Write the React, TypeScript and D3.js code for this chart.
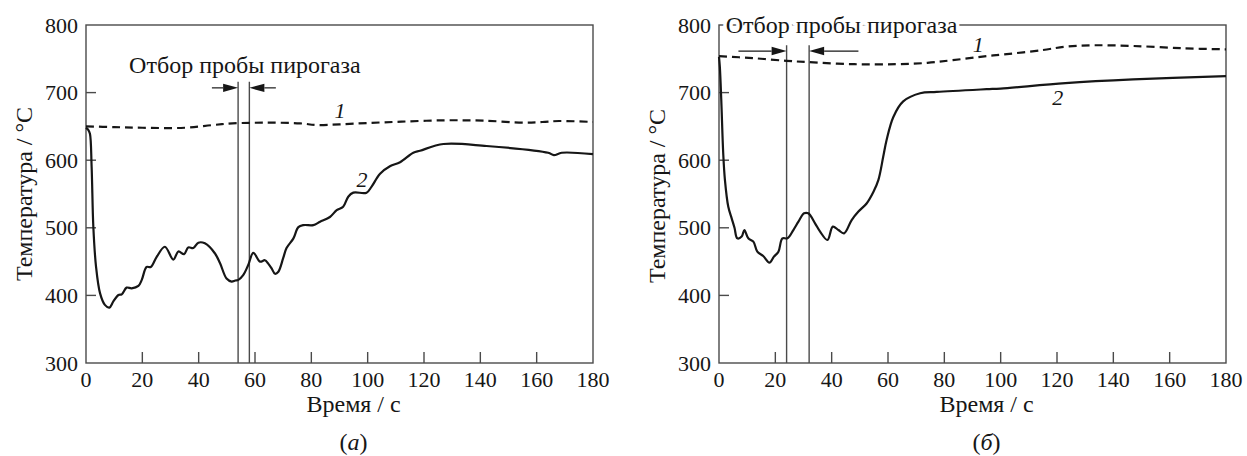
import React from 'react';
import * as d3 from 'd3';

// ---------- data ----------
const X_TICKS = [0, 20, 40, 60, 80, 100, 120, 140, 160, 180];
const Y_TICKS = [300, 400, 500, 600, 700, 800];
const X_LABEL = 'Время / с';
const Y_LABEL = 'Температура / °C';
const SAMPLING_LABEL = 'Отбор пробы пирогаза';

// panel (а)
const panelA_curve1: [number, number][] = [
  [0, 650], [10, 649], [20, 648], [35, 648], [45, 652], [52, 654.5], [64, 655.5], [76, 654.5],
  [82, 652], [90, 653], [100, 655], [112, 657], [127, 659], [141, 658.5], [156, 655.5],
  [162, 656.5], [168, 658], [180, 656.5],
];
const panelA_curve2: [number, number][] = [
  [0, 648], [0.8, 645], [1.4, 639], [2.0, 590], [2.6, 502], [3.55, 443], [5, 403], [6.7, 386],
  [8.3, 382], [9.7, 391], [11.5, 400.6], [12.7, 401.6], [14.4, 411.5], [16.2, 410.5], [18.6, 414],
  [19.8, 423], [21.5, 442], [23, 442], [25.1, 457], [28, 472], [31, 453], [32.8, 465], [34.8, 461],
  [36.3, 471], [38.1, 470], [39.9, 478], [42.2, 477], [45.8, 462], [47.6, 447.5], [49.9, 425],
  [51.7, 420.5], [53, 422], [54.1, 423], [55.8, 430], [57.6, 445], [59.4, 463], [61.8, 450],
  [63.5, 452], [64.7, 447], [65.9, 440], [67.1, 432], [68.3, 435], [70, 455], [71.2, 470],
  [73.6, 484], [75.4, 501], [77.2, 504], [80.7, 504], [83.1, 509], [86.6, 516], [89, 526],
  [91.3, 531], [93.1, 546], [94.9, 552], [99.6, 552], [101.4, 561], [104.4, 580], [107.9, 591],
  [111.5, 597], [116.2, 611], [118.6, 614], [126.9, 624], [142.2, 621], [164.1, 611],
  [166.1, 607.5], [168.9, 611], [180, 609],
];
const panelA_sampling = [54, 58];

// panel (б)
const panelB_curve1: [number, number][] = [
  [0, 754], [12, 751], [24, 747], [32, 745], [48, 742], [63, 742], [74, 744], [83, 748],
  [95, 754], [100, 756], [115, 763], [123, 768], [133, 770], [147, 769], [165, 765.5], [180, 764],
];
const panelB_curve2: [number, number][] = [
  [0, 753], [0.3, 738], [0.8, 690], [1.5, 610], [2.1, 571], [3.3, 531], [4.5, 514], [5.5, 500],
  [6.5, 484.4], [8.05, 487], [9.0, 496.7], [10.4, 484.4], [12.2, 479.5], [13.6, 464.7],
  [15.7, 458.3], [17.9, 448.4], [19.5, 457.3], [21.1, 464.7], [22.5, 484.4], [24.3, 484.4],
  [26.4, 496.7], [28.2, 509], [30.2, 521.4], [31.7, 521.4], [34.1, 506.6], [35.9, 494.3],
  [38.5, 482], [40.4, 501.7], [42.4, 496.7], [44.4, 491.8], [47.1, 511.5], [49.5, 524],
  [52.4, 536], [54.8, 553], [56.6, 571], [58.3, 605], [59.5, 630], [61.9, 664], [65.4, 687],
  [71.4, 699], [77.3, 701], [95, 705], [100, 706], [123, 714], [147, 719.5], [180, 724.5],
];
const panelB_sampling = [24, 32];

// ---------- layout ----------
const W = 1247;
const H = 456;
const PLOT_W = 507;
const TOP = 25;
const BOTTOM = 363;
const FONT = '"Liberation Serif", "Times New Roman", Times, serif';
const AXIS_COLOR = '#4a4a4a';
const INK = '#161616';

type PanelProps = {
  x0: number;
  curve1: [number, number][];
  curve2: [number, number][];
  sampling: number[];
  lineTopV: number;
  arrowV: number;
  arrowLeftFrom: number;
  arrowRightFrom: number;
  sampleLabelT: number;
  sampleLabelV: number;
  halo: boolean;
  label1: [number, number];
  label2: [number, number];
  caption: string;
  yTitleCenter: number;
};

function Arrow({ x1, x2, y }: { x1: number; x2: number; y: number }) {
  const dir = Math.sign(x2 - x1);
  const head = 15;
  const hw = 4.2;
  return (
    <g>
      <line x1={x1} x2={x2 - dir * head} y1={y} y2={y} stroke={INK} strokeWidth={1.2} />
      <path d={`M${x2},${y} L${x2 - dir * head},${y - hw} L${x2 - dir * head},${y + hw} Z`} fill={INK} />
    </g>
  );
}

function Panel(p: PanelProps) {
  const x = d3.scaleLinear().domain([0, 180]).range([p.x0, p.x0 + PLOT_W]);
  const y = d3.scaleLinear().domain([300, 800]).range([BOTTOM, TOP]);
  const line = d3
    .line<[number, number]>()
    .x((d) => x(d[0]))
    .y((d) => y(d[1]))
    .curve(d3.curveCatmullRom.alpha(0.5));
  const xMid = x(95);
  return (
    <g style={{ fontFamily: FONT }} fill={INK}>
      {/* frame */}
      <rect x={x(0)} y={y(800)} width={x(180) - x(0)} height={y(300) - y(800)} fill="none" stroke={AXIS_COLOR} strokeWidth={1.4} />
      {/* ticks */}
      {X_TICKS.filter((t) => t > 0 && t < 180).map((t) => (
        <line key={'xt' + t} x1={x(t)} x2={x(t)} y1={y(300)} y2={y(300) - 11} stroke={AXIS_COLOR} strokeWidth={1.4} />
      ))}
      {Y_TICKS.filter((v) => v > 300 && v < 800).map((v) => (
        <line key={'yt' + v} x1={x(0)} x2={x(0) + 10} y1={y(v)} y2={y(v)} stroke={AXIS_COLOR} strokeWidth={1.4} />
      ))}
      {/* tick labels */}
      {X_TICKS.map((t) => (
        <text key={'xl' + t} x={x(t)} y={386.5} fontSize={22} textAnchor="middle">{t}</text>
      ))}
      {Y_TICKS.map((v) => (
        <text key={'yl' + v} x={x(0) - 8} y={y(v) + 7.5} fontSize={22} textAnchor="end">{v}</text>
      ))}
      {/* axis titles */}
      <text x={xMid} y={411.7} fontSize={24} textAnchor="middle">{X_LABEL}</text>
      <text transform={`translate(${x(0) - 54},${p.yTitleCenter}) rotate(-90)`} fontSize={24} textAnchor="middle">{Y_LABEL}</text>
      <text x={xMid} y={450} fontSize={24} textAnchor="middle">
        (<tspan fontStyle="italic">{p.caption}</tspan>)
      </text>
      {/* sampling markers */}
      {p.sampling.map((t, i) => (
        <line key={'s' + i} x1={x(t)} x2={x(t)} y1={y(p.lineTopV)} y2={y(300)} stroke={AXIS_COLOR} strokeWidth={1.4} />
      ))}
      <Arrow x1={x(p.arrowLeftFrom)} x2={x(p.sampling[0])} y={y(p.arrowV)} />
      <Arrow x1={x(p.arrowRightFrom)} x2={x(p.sampling[1])} y={y(p.arrowV)} />
      <text
        x={x(p.sampleLabelT)}
        y={y(p.sampleLabelV)}
        fontSize={24}
        textAnchor="middle"
        stroke={p.halo ? '#fff' : 'none'}
        strokeWidth={p.halo ? 7 : 0}
        style={{ paintOrder: 'stroke' }}
      >
        {SAMPLING_LABEL}
      </text>
      {/* curves */}
      <path d={line(p.curve1) || ''} fill="none" stroke={INK} strokeWidth={2.2} strokeDasharray="8,5" />
      <path d={line(p.curve2) || ''} fill="none" stroke={INK} strokeWidth={2.2} />
      <text x={x(p.label1[0])} y={y(p.label1[1])} fontSize={22} fontStyle="italic" textAnchor="middle">1</text>
      <text x={x(p.label2[0])} y={y(p.label2[1])} fontSize={22} fontStyle="italic" textAnchor="middle">2</text>
    </g>
  );
}

export default function App() {
  return (
    <svg width={W} height={H} style={{ position: 'absolute', left: 0, top: 0, background: '#fff', fontFamily: FONT }}>
      <rect x={0} y={0} width={W} height={H} fill="#fff" />
      <Panel
        x0={86}
        curve1={panelA_curve1}
        curve2={panelA_curve2}
        sampling={panelA_sampling}
        lineTopV={716}
        arrowV={707}
        arrowLeftFrom={44.7}
        arrowRightFrom={67.4}
        sampleLabelT={56.4}
        sampleLabelV={729}
        halo={false}
        label1={[90.2, 662.4]}
        label2={[98, 561]}
        caption="а"
        yTitleCenter={194}
      />
      <Panel
        x0={719}
        curve1={panelB_curve1}
        curve2={panelB_curve2}
        sampling={panelB_sampling}
        lineTopV={770}
        arrowV={761.5}
        arrowLeftFrom={6.9}
        arrowRightFrom={49.5}
        sampleLabelT={43.5}
        sampleLabelV={788}
        halo={true}
        label1={[92, 760.5]}
        label2={[120.3, 681.7]}
        caption="б"
        yTitleCenter={196}
      />
    </svg>
  );
}
